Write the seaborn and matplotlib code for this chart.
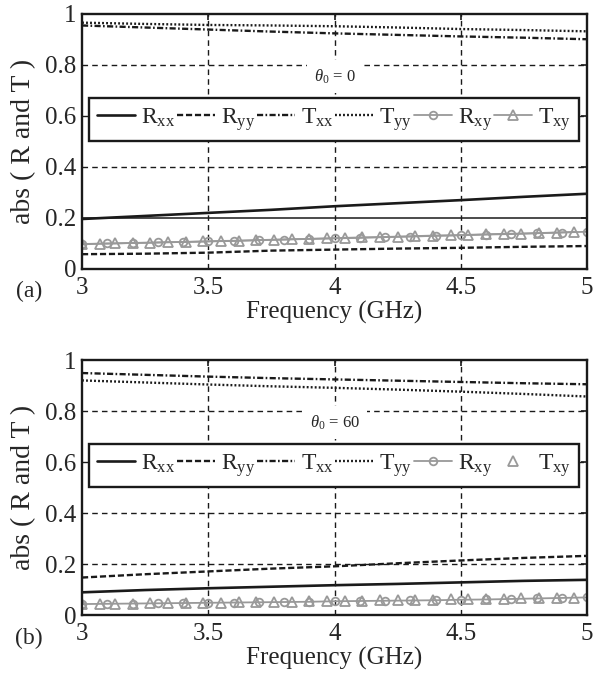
import pandas as pd
import seaborn as sns
import matplotlib.pyplot as plt

# frequency points (GHz)
freq = [3.0, 3.25, 3.5, 3.75, 4.0, 4.25, 4.5, 4.75, 5.0]
freq_rxy = [3.0, 3.1, 3.2, 3.3, 3.4, 3.5, 3.6, 3.7, 3.8, 3.9, 4.0,
            4.1, 4.2, 4.3, 4.4, 4.5, 4.6, 4.7, 4.8, 4.9, 5.0]
freq_txy = [3.00, 3.07, 3.13, 3.20, 3.27, 3.34, 3.41, 3.48, 3.55, 3.62,
            3.69, 3.76, 3.83, 3.90, 3.97, 4.04, 4.11, 4.18, 4.25, 4.32,
            4.39, 4.46, 4.53, 4.60, 4.67, 4.74, 4.81, 4.88, 4.95]

# (a) theta0 = 0
rxx_a = [0.196, 0.208, 0.220, 0.232, 0.246, 0.258, 0.270, 0.283, 0.295]
ryy_a = [0.058, 0.060, 0.064, 0.072, 0.076, 0.080, 0.083, 0.087, 0.090]
txx_a = [0.955, 0.947, 0.939, 0.931, 0.924, 0.918, 0.912, 0.907, 0.901]
tyy_a = [0.966, 0.961, 0.957, 0.955, 0.952, 0.947, 0.941, 0.937, 0.932]
rxy_a = [0.098, 0.100, 0.102, 0.104, 0.106, 0.108, 0.110, 0.113, 0.115, 0.118, 0.120,
         0.122, 0.125, 0.127, 0.130, 0.132, 0.135, 0.137, 0.140, 0.143, 0.146]
txy_a = [0.097, 0.099, 0.100, 0.102, 0.103, 0.105, 0.106, 0.108, 0.110, 0.111,
         0.113, 0.115, 0.117, 0.118, 0.120, 0.122, 0.124, 0.125, 0.127, 0.129,
         0.131, 0.132, 0.134, 0.136, 0.138, 0.139, 0.141, 0.143, 0.145]

# (b) theta0 = 60
rxx_b = [0.089, 0.098, 0.105, 0.111, 0.117, 0.122, 0.128, 0.134, 0.138]
ryy_b = [0.147, 0.160, 0.171, 0.182, 0.191, 0.203, 0.214, 0.224, 0.232]
txx_b = [0.949, 0.942, 0.935, 0.929, 0.924, 0.919, 0.914, 0.909, 0.905]
tyy_b = [0.920, 0.912, 0.904, 0.897, 0.891, 0.884, 0.876, 0.867, 0.857]
rxy_b = [0.043, 0.044, 0.045, 0.046, 0.047, 0.048, 0.049, 0.050, 0.051, 0.052, 0.054,
         0.055, 0.056, 0.057, 0.058, 0.060, 0.061, 0.063, 0.065, 0.067, 0.069]
txy_b = [0.043, 0.044, 0.045, 0.045, 0.046, 0.047, 0.048, 0.049, 0.049, 0.050,
         0.051, 0.052, 0.053, 0.054, 0.055, 0.055, 0.056, 0.057, 0.058, 0.059,
         0.060, 0.061, 0.062, 0.063, 0.064, 0.065, 0.066, 0.067, 0.068]

xticks = [3, 3.5, 4, 4.5, 5]
xticklabels = ['3', '3.5', '4', '4.5', '5']
yticks = [0, 0.2, 0.4, 0.6, 0.8, 1]
yticklabels = ['0', '0.2', '0.4', '0.6', '0.8', '1']

sns.set_theme(style='white')
plt.rcParams['font.family'] = ['Liberation Serif', 'DejaVu Serif']
plt.rcParams['mathtext.fontset'] = 'custom'
plt.rcParams['mathtext.rm'] = 'Liberation Serif'
plt.rcParams['mathtext.it'] = 'Liberation Serif:italic'

GRAY = '#999999'
grid_ls = (0, (4, 3))

fig = plt.figure(figsize=(6.08, 6.76), dpi=100)
ax_a = fig.add_axes([0.1349, 0.6021, 0.8306, 0.3772])
ax_b = fig.add_axes([0.1349, 0.0902, 0.8306, 0.3772])


def draw_panel(ax, rxx, ryy, txx, tyy, rxy, txy, theta, txy_line, solid02, tag):
    # grid first so curves sit on top
    for xv in [3.5, 4, 4.5]:
        ax.axvline(xv, color='k', lw=1.0, ls=grid_ls, zorder=1)
    for yv in [0.2, 0.4, 0.6, 0.8]:
        if solid02 and yv == 0.2:
            ax.axhline(yv, color='k', lw=1.1, zorder=1)
        else:
            ax.axhline(yv, color='k', lw=1.0, ls=grid_ls, zorder=1)

    sns.lineplot(x=freq, y=rxx, ax=ax, color='k', lw=1.9, label=r'R$_\mathregular{xx}$', zorder=3)
    sns.lineplot(x=freq, y=ryy, ax=ax, color='k', lw=1.7, linestyle=(0, (2.6, 1.2)),
                 label=r'R$_\mathregular{yy}$', zorder=3)
    sns.lineplot(x=freq, y=txx, ax=ax, color='k', lw=1.7, linestyle=(0, (2.6, 1.0, 0.7, 1.0)),
                 label=r'T$_\mathregular{xx}$', zorder=3)
    sns.lineplot(x=freq, y=tyy, ax=ax, color='k', lw=1.7, linestyle=(0, (0.8, 0.9)),
                 label=r'T$_\mathregular{yy}$', zorder=3)
    sns.lineplot(x=freq_rxy, y=rxy, ax=ax, color=GRAY, lw=1.3, marker='o', markersize=5.5,
                 markerfacecolor='none', markeredgecolor=GRAY, markeredgewidth=1.3,
                 label=r'R$_\mathregular{xy}$', zorder=4)
    sns.lineplot(x=freq_txy, y=txy, ax=ax, color=GRAY, lw=1.3 if txy_line else 0,
                 linestyle='-' if txy_line else 'none', marker='^', markersize=6.5,
                 markerfacecolor='none', markeredgecolor=GRAY, markeredgewidth=1.3,
                 label=r'T$_\mathregular{xy}$', zorder=4)

    ax.set_xlim(3, 5)
    ax.set_ylim(0, 1)
    ax.set_xticks(xticks)
    ax.set_xticklabels(xticklabels)
    ax.set_yticks(yticks)
    ax.set_yticklabels(yticklabels)
    ax.tick_params(labelsize=18, direction='in', length=4, width=1.2, color='k',
                   top=True, right=True)
    ax.tick_params(axis='x', pad=6)
    ax.tick_params(axis='y', pad=4)
    for s in ax.spines.values():
        s.set_color('k')
        s.set_linewidth(1.7)
        s.set_zorder(5)

    ax.set_xlabel('Frequency (GHz)', fontsize=18)
    ax.xaxis.set_label_coords(0.5, -0.125)
    ax.set_ylabel('abs ( R and T )', fontsize=20)
    ax.yaxis.set_label_coords(-0.09, 0.5)

    ax.text(4.0, 0.755, theta, fontsize=12, ha='center', va='center', zorder=2,
            bbox=dict(facecolor='white', edgecolor='none', pad=5))

    leg = ax.legend(loc='center', bbox_to_anchor=(0.014, 0.498, 0.970, 0.177),
                    mode='expand', ncol=6, fontsize=17, handlelength=1.6,
                    handletextpad=0.25, columnspacing=0.4, borderaxespad=0,
                    fancybox=False, framealpha=1, edgecolor='k', borderpad=0.35)
    leg.get_frame().set_linewidth(1.7)
    leg.set_zorder(6)

    ax.text(-0.105, -0.09, tag, transform=ax.transAxes, fontsize=17, ha='center', va='center')


draw_panel(ax_a, rxx_a, ryy_a, txx_a, tyy_a, rxy_a, txy_a,
           r'$\theta_\mathregular{0}$ = 0', True, True, '(a)')
draw_panel(ax_b, rxx_b, ryy_b, txx_b, tyy_b, rxy_b, txy_b,
           r'$\theta_\mathregular{0}$ = 60', False, False, '(b)')

fig.savefig('out.png', dpi=100, facecolor='white')
